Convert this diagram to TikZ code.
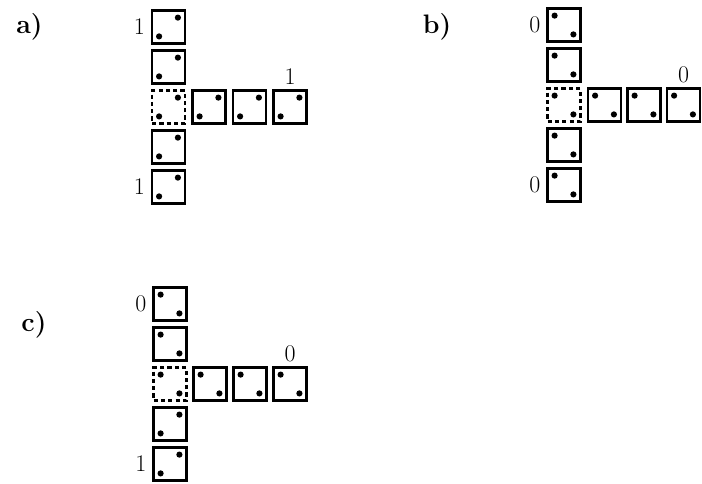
\documentclass[tikz,border=0pt]{standalone}
\usepackage{tikz}
\usetikzlibrary{positioning}

\begin{document}
\begin{tikzpicture}[
  x=0.025cm, y=-0.025cm,
  cell/.style={draw=black, line width=1.6pt, minimum size=0.82cm, inner sep=0pt, outer sep=0pt},
  dcell/.style={cell, dashed, dash pattern=on 3pt off 2.2pt},
  dotsrise/.style={path picture={
      \fill ([shift={(-7,7)}]path picture bounding box.north east) circle (2.2pt);
      \fill ([shift={(7,-7)}]path picture bounding box.south west) circle (2.2pt);}},
  dotsfall/.style={path picture={
      \fill ([shift={(7,7)}]path picture bounding box.north west) circle (2.2pt);
      \fill ([shift={(-7,-7)}]path picture bounding box.south east) circle (2.2pt);}},
  num/.style={font=\fontsize{17}{19}\selectfont, inner sep=0pt},
  tag/.style={font=\fontsize{19}{22}\selectfont\bfseries, inner sep=0pt},
]
\useasboundingbox (0,0) rectangle (702,483);

% panel a
\node[tag] (ta) at (29.5,27) {a)};
\begin{scope}[shift={(168.5,27)}]
\node[cell, dotsrise] (a1) at (0,0) {};
\node[cell, dotsrise] (a2) at (0,40) {};
\node[dcell, dotsrise] (a3) at (0,80) {};
\node[cell, dotsrise] (a4) at (0,120) {};
\node[cell, dotsrise] (a5) at (0,160) {};
\node[cell, dotsrise] (ah1) at (40.5,80) {};
\node[cell, dotsrise] (ah2) at (81,80) {};
\node[cell, dotsrise] (ah3) at (121.5,80) {};
\end{scope}
\node[num, left=5pt of a1] (na1) {1};
\node[num, left=5pt of a5] (na5) {1};
\node[num, above=4pt of ah3] (nah3) {1};

% panel b
\node[tag] (tb) at (437,27) {b)};
\begin{scope}[shift={(564,25)}]
\node[cell, dotsfall] (b1) at (0,0) {};
\node[cell, dotsfall] (b2) at (0,40) {};
\node[dcell, dotsfall] (b3) at (0,80) {};
\node[cell, dotsfall] (b4) at (0,120) {};
\node[cell, dotsfall] (b5) at (0,160) {};
\node[cell, dotsfall] (bh1) at (40.5,80) {};
\node[cell, dotsfall] (bh2) at (80,80) {};
\node[cell, dotsfall] (bh3) at (119.5,80) {};
\end{scope}
\node[num, left=5pt of b1] (nb1) {0};
\node[num, left=5pt of b5] (nb5) {0};
\node[num, above=4pt of bh3] (nbh3) {0};

% panel c
\node[tag] (tc) at (34,325) {c)};
\begin{scope}[shift={(170,304)}]
\node[cell, dotsfall] (c1) at (0,0) {};
\node[cell, dotsfall] (c2) at (0,40) {};
\node[dcell, dotsfall] (c3) at (0,80) {};
\node[cell, dotsrise] (c4) at (0,120) {};
\node[cell, dotsrise] (c5) at (0,160) {};
\node[cell, dotsfall] (ch1) at (40,80) {};
\node[cell, dotsfall] (ch2) at (80,80) {};
\node[cell, dotsfall] (ch3) at (120,80) {};
\end{scope}
\node[num, left=5pt of c1] (nc1) {0};
\node[num, left=5pt of c5] (nc5) {1};
\node[num, above=4pt of ch3] (nch3) {0};
\end{tikzpicture}
\end{document}
